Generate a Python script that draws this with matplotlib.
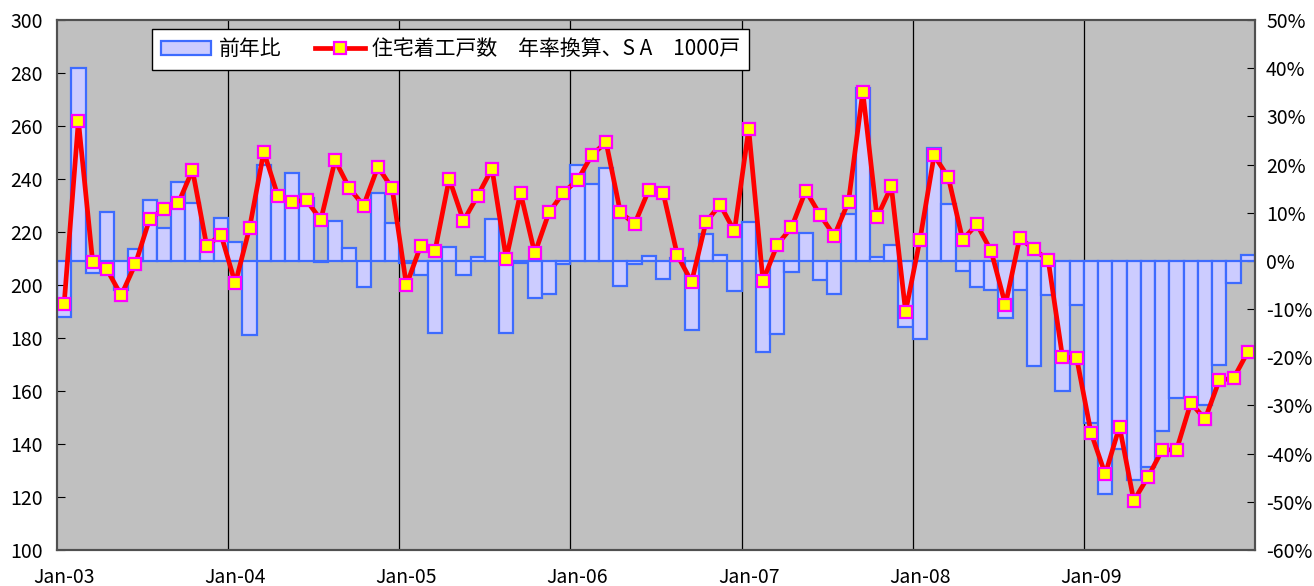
import matplotlib
matplotlib.use('Agg')
import matplotlib.pyplot as plt
import numpy as np

plt.rcParams['font.family'] = ['Noto Sans CJK JP', 'DejaVu Sans']
plt.rcParams['axes.unicode_minus'] = False

# 住宅着工戸数（年率換算、SA、1000戸）と前年比（%）, 2003/01 - 2009/12
starts = [192.8, 262.0, 208.8, 205.9, 196.1, 208.0, 225.0, 228.6, 230.8, 243.4, 214.7, 219.0,
          200.6, 221.5, 250.3, 233.4, 231.5, 231.9, 224.6, 247.1, 236.5, 230.0, 244.6, 236.5,
          199.9, 214.8, 212.8, 240.1, 224.2, 233.7, 243.9, 209.9, 234.8, 211.9, 227.4, 234.8,
          239.6, 249.0, 253.9, 227.5, 223.0, 235.9, 234.8, 211.2, 201.2, 223.7, 230.3, 220.3,
          258.9, 201.5, 215.2, 221.7, 235.6, 226.5, 218.6, 231.5, 273.0, 225.5, 237.2, 189.9,
          216.9, 248.9, 240.6, 217.1, 222.9, 212.8, 192.5, 217.7, 213.5, 209.4, 172.9, 172.3,
          144.3, 128.6, 146.6, 118.6, 127.6, 137.8, 137.8, 155.5, 149.4, 164.1, 164.8, 174.8]

yoy = [-11.6, 40.1, -2.6, 10.2, -6.1, 2.4, 12.6, 6.9, 16.3, 12.0, 2.0, 9.0,
       3.9, -15.4, 19.9, 13.5, 18.2, 13.0, -0.2, 8.2, 2.6, -5.4, 14.1, 7.9,
       -0.5, -2.9, -14.9, 2.8, -3.0, 0.8, 8.7, -15.0, -0.5, -7.8, -6.9, -0.6,
       19.9, 15.9, 19.3, -5.3, -0.6, 1.1, -3.7, 0.7, -14.3, 5.5, 1.2, -6.2,
       8.0, -19.0, -15.2, -2.4, 5.7, -4.0, -6.9, 9.7, 35.9, 0.8, 3.2, -13.7,
       -16.2, 23.5, 11.8, -2.0, -5.4, -6.0, -11.8, -6.0, -21.8, -7.0, -27.1, -9.1,
       -33.6, -48.4, -39.1, -45.4, -42.8, -35.2, -28.4, -28.5, -30.0, -21.5, -4.6, 1.3]

year_labels = ['Jan-03', 'Jan-04', 'Jan-05', 'Jan-06', 'Jan-07', 'Jan-08', 'Jan-09']

x = np.arange(len(starts))

fig = plt.figure(figsize=(13.14, 5.86), dpi=100)
fig.patch.set_facecolor('white')
ax_r = fig.add_axes([57 / 1314, 1 - 550 / 586, 1198 / 1314, 530 / 586])
ax_l = ax_r.twinx()

# 右軸：前年比の棒
ax_r.set_facecolor('#C0C0C0')
ax_r.bar(x, yoy, width=1.0, color='#CCCCFF', edgecolor='#3D6BFF', linewidth=1.6,
         label='前年比', zorder=2)
for k in range(12, len(x), 12):
    ax_r.axvline(k - 0.5, color='black', linewidth=0.9, zorder=1)
ax_r.set_ylim(-60, 50)
ax_r.set_yticks(np.arange(-60, 51, 10))
ax_r.set_yticklabels([f'{v}%' for v in range(-60, 51, 10)])

# 左軸：着工戸数の折れ線
ax_l.set_zorder(ax_r.get_zorder() + 1)
ax_l.patch.set_visible(False)
ax_l.plot(x, starts, color='#FF0000', linewidth=3.4, marker='s', markersize=9,
          markerfacecolor='#FFFF00', markeredgecolor='#FF00FF', markeredgewidth=1.6,
          label='住宅着工戸数\u3000年率換算、S A\u30001000戸')
ax_l.set_ylim(100, 300)
ax_l.set_yticks(np.arange(100, 301, 20))

# 左の目盛は左側、右の目盛は右側へ
ax_l.yaxis.tick_left()
ax_r.yaxis.tick_right()
ax_r.set_xlim(-0.5, len(x) - 0.5)
ax_r.set_xticks(np.arange(0, len(x), 12))
ax_r.set_xticklabels(year_labels)
ax_r.tick_params(axis='x', length=0, pad=12, labelsize=14)
ax_r.tick_params(axis='y', direction='in', length=6, pad=8, labelsize=14)
ax_l.tick_params(axis='y', direction='in', length=6, pad=10, labelsize=14)

for a in (ax_r, ax_l):
    for s in a.spines.values():
        s.set_color('#505050')
        s.set_linewidth(1.5)

h1, l1 = ax_r.get_legend_handles_labels()
h2, l2 = ax_l.get_legend_handles_labels()
leg = ax_l.legend(h1 + h2, l1 + l2, ncol=2, loc='upper left',
                  bbox_to_anchor=(152 / 1314, 1 - 29 / 586),
                  bbox_transform=fig.transFigure, fontsize=15,
                  frameon=True, fancybox=False, framealpha=1, edgecolor='black',
                  handlelength=2.4, handletextpad=0.35, columnspacing=1.6,
                  borderpad=0.45, borderaxespad=0)
leg.get_frame().set_linewidth(1.0)

fig.savefig('out.png', dpi=100, facecolor='white')
